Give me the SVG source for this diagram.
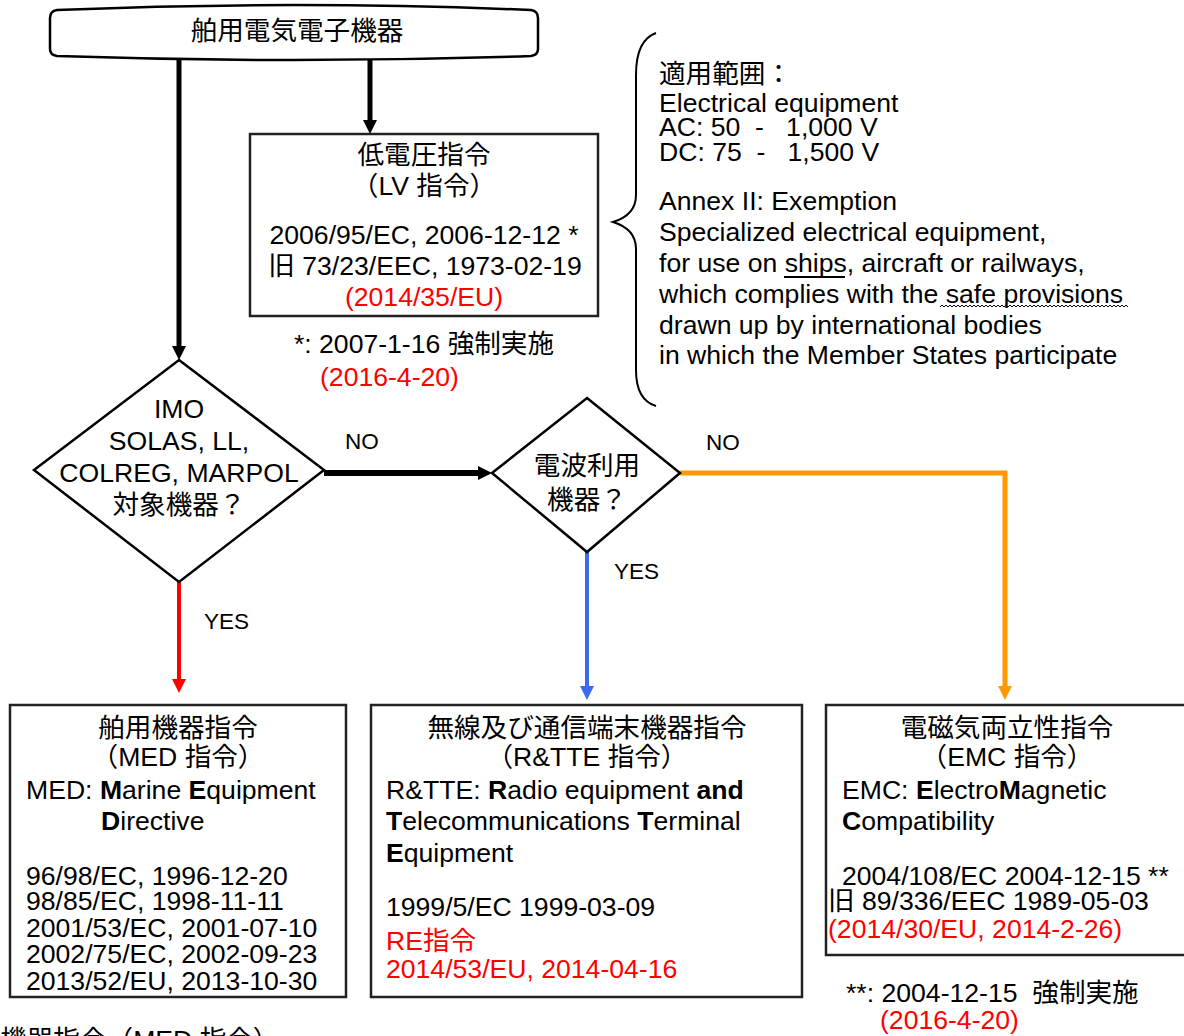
<svg xmlns="http://www.w3.org/2000/svg" width="1184" height="1036" viewBox="0 0 1184 1036">
<style>
text{font-family:"Liberation Sans","Noto Sans CJK JP",sans-serif;font-size:26.6px;fill:#000}
.c{text-anchor:middle}
.r{fill:#ff0000}
.lbl{font-size:22.5px}
.b{font-weight:bold}
.box{fill:#fff;stroke:#222;stroke-width:2.5}
.dia{fill:#fff;stroke:#000;stroke-width:2.5}
</style>
<defs>
<marker id="ak" markerUnits="userSpaceOnUse" markerWidth="16" markerHeight="16" refX="4" refY="7" orient="auto"><path d="M0,0 L14,7 L0,14 Z" fill="#000"/></marker>
<marker id="ar" markerUnits="userSpaceOnUse" markerWidth="16" markerHeight="16" refX="4" refY="7" orient="auto"><path d="M0,0 L14,7 L0,14 Z" fill="#ff0000"/></marker>
<marker id="ab" markerUnits="userSpaceOnUse" markerWidth="16" markerHeight="16" refX="4" refY="7" orient="auto"><path d="M0,0 L14,7 L0,14 Z" fill="#3a6af0"/></marker>
<marker id="ao" markerUnits="userSpaceOnUse" markerWidth="16" markerHeight="16" refX="4" refY="7" orient="auto"><path d="M0,0 L14,7 L0,14 Z" fill="#ff9900"/></marker>
</defs>
<rect width="1184" height="1036" fill="#fff"/>

<g id="connectors" fill="none">
<path d="M179,58 V350" stroke="#000" stroke-width="5" marker-end="url(#ak)"/>
<path d="M370,58 V124" stroke="#000" stroke-width="5" marker-end="url(#ak)"/>
<path d="M324,473 H482" stroke="#000" stroke-width="6" marker-end="url(#ak)"/>
<path d="M179,582 V683" stroke="#ff0000" stroke-width="4" marker-end="url(#ar)"/>
<path d="M587,552 V690" stroke="#3a6af0" stroke-width="4" marker-end="url(#ab)"/>
<path d="M680,473 H1005 V690" stroke="#ff9900" stroke-width="5" marker-end="url(#ao)"/>
<text class="lbl" x="345" y="449">NO</text>
<text class="lbl" x="706" y="450">NO</text>
<text class="lbl" x="614" y="579">YES</text>
<text class="lbl" x="204" y="629">YES</text>
</g>

<g id="start">
<path d="M57,10 Q294,0 531,10 Q538,11 538,18 L538,49 Q538,55 531,56 Q294,64 57,56 Q50,55 50,49 L50,18 Q50,11 57,10 Z" fill="#fff" stroke="#000" stroke-width="2.5"/>
<text class="c" x="297" y="40">舶用電気電子機器</text>
</g>

<g id="lv">
<rect class="box" x="250" y="134" width="348" height="182"/>
<text class="c" x="424" y="164">低電圧指令</text>
<text class="c" x="424" y="195">（LV 指令）</text>
<text class="c" x="424" y="244">2006/95/EC, 2006-12-12 *</text>
<text class="c" x="425" y="275">旧 73/23/EEC, 1973-02-19</text>
<text class="c r" x="424" y="306">(2014/35/EU)</text>
</g>

<g id="lv-note">
<text class="c" x="424" y="353">*: 2007-1-16 強制実施</text>
<text class="r" x="320" y="386">(2016-4-20)</text>
</g>

<g id="scope">
<path d="M656,33 Q636,40 636,75 L636,195 Q636,215 613,222 Q636,229 636,249 L636,370 Q636,400 656,406" fill="none" stroke="#000" stroke-width="2"/>
<text x="659" y="83">適用範囲：</text>
<text x="659" y="112">Electrical equipment</text>
<text x="659" y="136" xml:space="preserve">AC: 50  -   1,000 V</text>
<text x="659" y="161" xml:space="preserve">DC: 75  -   1,500 V</text>
<text x="659" y="210">Annex II: Exemption</text>
<text x="659" y="241">Specialized electrical equipment,</text>
<text x="659" y="272">for use on ships, aircraft or railways,</text>
<path d="M784,277 H845" stroke="#000" stroke-width="2"/>
<text x="659" y="303">which complies with the safe provisions</text>
<path d="M940,307 l2,-2 l2,2 l2,-2 l2,2 l2,-2 l2,2 l2,-2 l2,2 l2,-2 l2,2 l2,-2 l2,2 l2,-2 l2,2 l2,-2 l2,2 l2,-2 l2,2 l2,-2 l2,2 l2,-2 l2,2 l2,-2 l2,2 l2,-2 l2,2 l2,-2 l2,2 l2,-2 l2,2 l2,-2 l2,2 l2,-2 l2,2 l2,-2 l2,2 l2,-2 l2,2 l2,-2 l2,2 l2,-2 l2,2 l2,-2 l2,2 l2,-2 l2,2 l2,-2 l2,2 l2,-2 l2,2 l2,-2 l2,2 l2,-2 l2,2 l2,-2 l2,2 l2,-2 l2,2 l2,-2 l2,2 l2,-2 l2,2 l2,-2 l2,2 l2,-2 l2,2 l2,-2 l2,2 l2,-2 l2,2 l2,-2 l2,2 l2,-2 l2,2 l2,-2 l2,2 l2,-2 l2,2 l2,-2 l2,2 l2,-2 l2,2 l2,-2 l2,2 l2,-2 l2,2 l2,-2 l2,2 l2,-2 l2,2 l2,-2 l2,2 l2,-2 l2,2" fill="none" stroke="#000" stroke-width="1"/>
<text x="659" y="334">drawn up by international bodies</text>
<text x="659" y="364">in which the Member States participate</text>
</g>

<g id="imo">
<path class="dia" d="M179,360 L324,470 L179,582 L34,470 Z"/>
<text class="c" x="179" y="418">IMO</text>
<text class="c" x="179" y="450">SOLAS, LL,</text>
<text class="c" x="179" y="482">COLREG, MARPOL</text>
<text class="c" x="179" y="514">対象機器？</text>
</g>

<g id="radio">
<path class="dia" d="M587,398 L680,473 L587,552 L492,473 Z"/>
<text class="c" x="587" y="475">電波利用</text>
<text class="c" x="587" y="509">機器？</text>
</g>

<g id="med">
<rect class="box" x="10" y="705" width="336" height="292"/>
<text class="c" x="178" y="737">舶用機器指令</text>
<text class="c" x="178" y="766">（MED 指令）</text>
<text x="26" y="799">MED: <tspan class="b">M</tspan>arine <tspan class="b">E</tspan>quipment</text>
<text x="101" y="830"><tspan class="b">D</tspan>irective</text>
<text x="26" y="885">96/98/EC, 1996-12-20</text>
<text x="26" y="910">98/85/EC, 1998-11-11</text>
<text x="26" y="937">2001/53/EC, 2001-07-10</text>
<text x="26" y="963">2002/75/EC, 2002-09-23</text>
<text x="26" y="990">2013/52/EU, 2013-10-30</text>
</g>

<g id="rtte">
<rect class="box" x="371" y="705" width="431" height="292"/>
<text class="c" x="587" y="737">無線及び通信端末機器指令</text>
<text class="c" x="587" y="766">（R&amp;TTE 指令）</text>
<text x="386" y="799">R&amp;TTE: <tspan class="b">R</tspan>adio equipment <tspan class="b">and</tspan></text>
<text x="386" y="830"><tspan class="b">T</tspan>elecommunications <tspan class="b">T</tspan>erminal</text>
<text x="386" y="862"><tspan class="b">E</tspan>quipment</text>
<text x="386" y="916">1999/5/EC 1999-03-09</text>
<text class="r" x="386" y="950">RE指令</text>
<text class="r" x="386" y="978">2014/53/EU, 2014-04-16</text>
</g>

<g id="emc">
<rect class="box" x="826" y="705" width="380" height="250"/>
<text class="c" x="1007" y="737">電磁気両立性指令</text>
<text class="c" x="1007" y="766">（EMC 指令）</text>
<text x="842" y="799">EMC: <tspan class="b">E</tspan>lectro<tspan class="b">M</tspan>agnetic</text>
<text x="842" y="830"><tspan class="b">C</tspan>ompatibility</text>
<text x="842" y="885">2004/108/EC 2004-12-15 **</text>
<text x="828" y="910">旧 89/336/EEC 1989-05-03</text>
<text class="r" x="828" y="938">(2014/30/EU, 2014-2-26)</text>
</g>

<g id="emc-note">
<text x="846" y="1002" xml:space="preserve">**: 2004-12-15  強制実施</text>
<text class="r" x="880" y="1029">(2016-4-20)</text>
</g>

<g id="cut-caption">
<text x="-53" y="1049">舶用機器指令（MED 指令）</text>
</g>
</svg>
